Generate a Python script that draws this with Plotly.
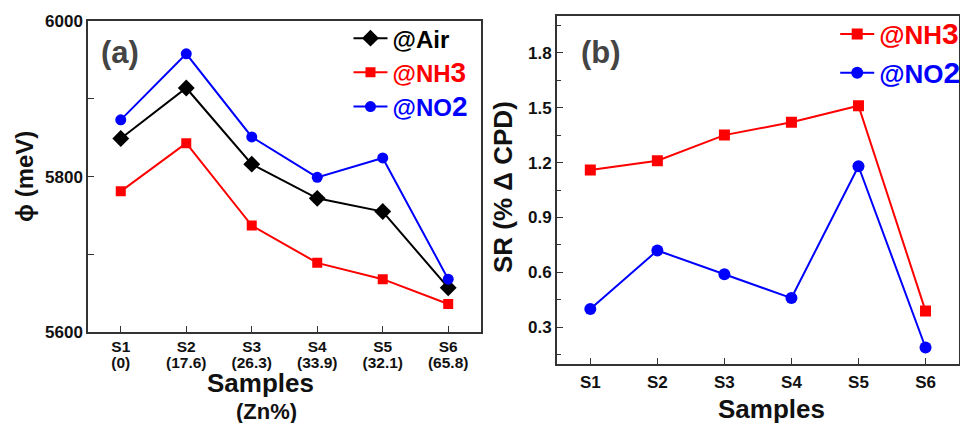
import plotly.graph_objects as go

samples = ["S1", "S2", "S3", "S4", "S5", "S6"]
zn_pct = ["(0)", "(17.6)", "(26.3)", "(33.9)", "(32.1)", "(65.8)"]

# Panel (a): work function (meV)
phi_air = [5849, 5914, 5816, 5772, 5755, 5657]
phi_nh3 = [5781, 5843, 5737, 5689, 5668, 5636]
phi_no2 = [5873, 5958, 5851, 5799, 5824, 5668]

# Panel (b): sensor response SR (% delta CPD)
sr_nh3 = [1.16, 1.21, 1.35, 1.42, 1.51, 0.39]
sr_no2 = [0.40, 0.72, 0.59, 0.46, 1.18, 0.19]

xpos = list(range(1, len(samples) + 1))
FONT = "Liberation Sans, Arial, sans-serif"
AX = "#333333"
TXT = "#111111"
RED = "#ff0000"
BLUE = "#0000ff"

fig = go.Figure()

fig.add_trace(go.Scatter(x=xpos, y=phi_air, mode="lines+markers", name="<span style='color:#000000'>@Air</span>",
                         line=dict(color="black", width=2), marker=dict(symbol="diamond", size=13, color="black"),
                         xaxis="x", yaxis="y", legend="legend"))
fig.add_trace(go.Scatter(x=xpos, y=phi_nh3, mode="lines+markers",
                         name="<span style='color:#ff0000'>@NH<span style='font-size:28px'>3</span></span>",
                         line=dict(color=RED, width=2), marker=dict(symbol="square", size=10, color=RED),
                         xaxis="x", yaxis="y", legend="legend"))
fig.add_trace(go.Scatter(x=xpos, y=phi_no2, mode="lines+markers",
                         name="<span style='color:#0000ff'>@NO<span style='font-size:28px'>2</span></span>",
                         line=dict(color=BLUE, width=2), marker=dict(symbol="circle", size=11, color=BLUE),
                         xaxis="x", yaxis="y", legend="legend"))
# carrier for the second row of panel-(a) tick labels (Zn %)
fig.add_trace(go.Scatter(x=xpos, y=[None] * len(xpos), mode="markers", showlegend=False, hoverinfo="skip",
                         xaxis="x3", yaxis="y"))

fig.add_trace(go.Scatter(x=xpos, y=sr_nh3, mode="lines+markers",
                         name="<span style='color:#ff0000'>@NH<span style='font-size:30px'>3</span></span>",
                         line=dict(color=RED, width=2), marker=dict(symbol="square", size=11, color=RED),
                         xaxis="x2", yaxis="y2", legend="legend2", legendgroup="a"))
fig.add_trace(go.Scatter(x=xpos, y=sr_no2, mode="lines+markers",
                         name="<span style='color:#0000ff'>@NO<span style='font-size:30px'>2</span></span>",
                         line=dict(color=BLUE, width=2), marker=dict(symbol="circle", size=12, color=BLUE),
                         xaxis="x2", yaxis="y2", legend="legend2", legendgroup="b"))

tick_font = dict(family=FONT, size=17, color=TXT, weight="bold")
xa_font = dict(family=FONT, size=15.5, color=TXT, weight="bold")
axis_common = dict(showline=True, linecolor=AX, linewidth=1.5, mirror=True, ticks="inside",
                   tickcolor=AX, ticklen=6, tickwidth=1.2, showgrid=False, zeroline=False,
                   automargin=False)

fig.update_layout(
    width=960, height=423,
    margin=dict(l=0, r=0, t=0, b=0, autoexpand=False),
    paper_bgcolor="white", plot_bgcolor="white",
    xaxis=dict(domain=[0.0917, 0.501], anchor="y", range=[0.5, 6.5], tickfont=xa_font,
               tickvals=xpos, ticktext=samples, ticklabelstandoff=0, **axis_common),
    xaxis3=dict(overlaying="x", anchor="y", side="bottom", range=[0.5, 6.5], tickvals=xpos, ticktext=zn_pct,
                showline=False, ticks="", showgrid=False, zeroline=False, tickfont=xa_font,
                ticklabelstandoff=19, automargin=False),
    yaxis=dict(domain=[0.2151, 0.950], anchor="x", range=[5600, 6000], tickfont=tick_font,
               tickvals=[5600, 5700, 5800, 5900, 6000], ticktext=["5600", "", "5800", "", "6000"],
               **axis_common),
    xaxis2=dict(domain=[0.580, 0.999], anchor="y2", range=[0.5, 6.5], tickfont=tick_font,
                tickvals=xpos, ticktext=samples, ticklabelstandoff=2, **axis_common),
    yaxis2=dict(domain=[0.1395, 0.962], anchor="x2", range=[0.1, 2.0], tickfont=tick_font,
                tickvals=[0.3, 0.6, 0.9, 1.2, 1.5, 1.8],
                minor=dict(dtick=0.15, tick0=0.15, ticks="inside", ticklen=4, tickcolor=AX),
                **axis_common),
    legend=dict(x=0.363, y=0.962, xanchor="left", yanchor="top", bgcolor="rgba(0,0,0,0)",
                font=dict(family=FONT, size=24, weight="bold"), itemwidth=34, tracegroupgap=0),
    legend2=dict(x=0.870, y=0.975, xanchor="left", yanchor="top", bgcolor="rgba(0,0,0,0)",
                 font=dict(family=FONT, size=26, weight="bold"), itemwidth=34, tracegroupgap=2,
                 traceorder="grouped"),
    showlegend=True,
    annotations=[
        dict(text="(a)", x=120 / 960, y=1 - 53 / 423, xref="paper", yref="paper", showarrow=False,
             xanchor="center", yanchor="middle",
             font=dict(family=FONT, size=31, color="#444444", weight="bold")),
        dict(text="(b)", x=601 / 960, y=1 - 53 / 423, xref="paper", yref="paper", showarrow=False,
             xanchor="center", yanchor="middle",
             font=dict(family=FONT, size=31, color="#444444", weight="bold")),
        # axis titles
        dict(text="Samples", x=260 / 960, y=1 - 382.5 / 423, xref="paper", yref="paper", showarrow=False,
             xanchor="center", yanchor="middle",
             font=dict(family=FONT, size=26, color=TXT, weight="bold")),
        dict(text="(Zn%)", x=266 / 960, y=1 - 411 / 423, xref="paper", yref="paper", showarrow=False,
             xanchor="center", yanchor="middle",
             font=dict(family=FONT, size=22, color=TXT, weight="bold")),
        dict(text="Samples", x=771 / 960, y=1 - 409 / 423, xref="paper", yref="paper", showarrow=False,
             xanchor="center", yanchor="middle",
             font=dict(family=FONT, size=26, color=TXT, weight="bold")),
        dict(text="ϕ (meV)", x=24 / 960, y=1 - 177 / 423, xref="paper", yref="paper", showarrow=False,
             xanchor="center", yanchor="middle",
             textangle=-90, font=dict(family=FONT, size=24, color=TXT, weight="bold")),
        dict(text="SR (% Δ CPD)", x=503 / 960, y=1 - 187 / 423, xref="paper", yref="paper", showarrow=False,
             xanchor="center", yanchor="middle",
             textangle=-90, font=dict(family=FONT, size=26, color=TXT, weight="bold")),
    ],
)

fig.write_html("out.html")
